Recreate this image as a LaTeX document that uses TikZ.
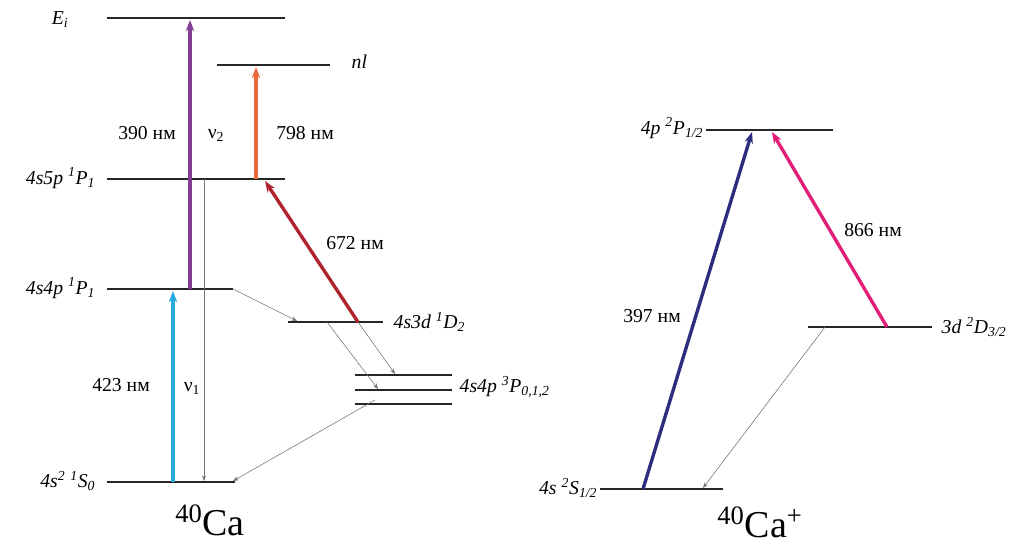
\documentclass[tikz,border=0pt]{standalone}
\usepackage{fontspec}
\setmainfont{Liberation Serif}
\usetikzlibrary{arrows.meta}

\definecolor{violetarrow}{RGB}{130,60,145}
\definecolor{orangearrow}{RGB}{235,105,60}
\definecolor{redarrow}{RGB}{175,35,45}
\definecolor{cyanarrow}{RGB}{40,170,225}
\definecolor{bluearrow}{RGB}{45,45,125}
\definecolor{magentaarrow}{RGB}{225,30,120}

\tikzset{
    level/.style={line width=1.5pt, draw=black!85},
    laser/.style={line width=2.4pt, -{Stealth[length=8pt,width=6pt]}},
    decay/.style={line width=0.4pt, draw=black!55, -{Stealth[length=4pt,width=3pt]}},
    lbl/.style={font=\fontsize{14}{16}\selectfont, inner sep=1pt},
    term/.style={font=\fontsize{14}{16}\selectfont\itshape, inner sep=1pt},
    atom/.style={font=\fontsize{27}{30}\selectfont, inner sep=0pt},
}

\begin{document}
\begin{tikzpicture}[x=0.025cm, y=-0.025cm]
        \useasboundingbox (0,0) rectangle (1025,547);

        % neutral calcium levels
        \draw[level] (107,18) -- (285,18);
        \draw[level] (217,65) -- (330,65);
        \draw[level] (107,179) -- (285,179);
        \draw[level] (107,289) -- (233,289);
        \draw[level] (288,322) -- (383,322);
        \draw[level] (355,375) -- (452,375);
        \draw[level] (355,390) -- (452,390);
        \draw[level] (355,404) -- (452,404);
        \draw[level] (107,482) -- (235,482);

        % ion levels
        \draw[level] (706,130) -- (833,130);
        \draw[level] (808,327) -- (932,327);
        \draw[level] (600,489) -- (723,489);

        % end points on the levels
        \coordinate (ei) at (190,20);
        \coordinate (nl) at (256,67);
        \coordinate (p5a) at (190,289);
        \coordinate (p5b) at (256,179);
        \coordinate (p5c) at (265,181);
        \coordinate (p5d) at (204,179);
        \coordinate (p4a) at (173,291);
        \coordinate (p4b) at (233,289);
        \coordinate (s0a) at (173,482);
        \coordinate (s0b) at (204,481);
        \coordinate (s0c) at (233,481);
        \coordinate (d2a) at (358,322);
        \coordinate (d2b) at (327,322);
        \coordinate (d2c) at (297,321);
        \coordinate (tpa) at (395,374);
        \coordinate (tpb) at (378,389);
        \coordinate (tpc) at (375,400);
        \coordinate (ppa) at (752,132);
        \coordinate (ppb) at (772,132);
        \coordinate (dda) at (887,327);
        \coordinate (ddb) at (825,327);
        \coordinate (ssa) at (643,489);
        \coordinate (ssb) at (703,488);

        % lasers
        \draw[laser, violetarrow] (p5a) -- (ei);
        \draw[laser, orangearrow] (p5b) -- (nl);
        \draw[laser, redarrow] (d2a) -- (p5c);
        \draw[laser, cyanarrow] (s0a) -- (p4a);
        \draw[laser, bluearrow] (ssa) -- (ppa);
        \draw[laser, magentaarrow] (dda) -- (ppb);

        % spontaneous decays
        \draw[decay] (p5d) -- (s0b);
        \draw[decay] (p4b) -- (d2c);
        \draw[decay] (d2b) -- (tpb);
        \draw[decay] (d2a) -- (tpa);
        \draw[decay] (tpc) -- (s0c);
        \draw[decay] (ddb) -- (ssb);

        % term labels
        \node[term, anchor=east] (lEi) at (70,20) {E\textsubscript{i}};
        \node[term, anchor=west] (lnl) at (350,62) {nl};
        \node[term, anchor=east] (l5p) at (97,178) {4s5p \textsuperscript{1}P\textsubscript{1}};
        \node[term, anchor=east] (l4p) at (97,288) {4s4p \textsuperscript{1}P\textsubscript{1}};
        \node[term, anchor=west] (l3d) at (392,322) {4s3d \textsuperscript{1}D\textsubscript{2}};
        \node[term, anchor=west] (l3p) at (458,387) {4s4p \textsuperscript{3}P\textsubscript{0,1,2}};
        \node[term, anchor=east] (l4s) at (97,481) {4s\textsuperscript{2} \textsuperscript{1}S\textsubscript{0}};
        \node[term, anchor=east] (lpp) at (705,128) {4p \textsuperscript{2}P\textsubscript{1/2}};
        \node[term, anchor=west] (ldd) at (940,327) {3d \textsuperscript{2}D\textsubscript{3/2}};
        \node[term, anchor=east] (lss) at (599,488) {4s \textsuperscript{2}S\textsubscript{1/2}};

        % wavelengths
        \node[lbl] (w390) at (147,133) {390 нм};
        \node[lbl] (nu2) at (216,135) {ν\textsubscript{2}};
        \node[lbl] (w798) at (305,133) {798 нм};
        \node[lbl] (w672) at (355,243) {672 нм};
        \node[lbl] (w423) at (121,385) {423 нм};
        \node[lbl] (nu1) at (192,388) {ν\textsubscript{1}};
        \node[lbl] (w397) at (652,316) {397 нм};
        \node[lbl] (w866) at (873,230) {866 нм};

        % atoms
        \node[atom] (ca) at (210,520) {\textsuperscript{40}Ca};
        \node[atom] (caion) at (760,522) {\textsuperscript{40}Ca\textsuperscript{+}};
    \end{tikzpicture}
\end{document}
